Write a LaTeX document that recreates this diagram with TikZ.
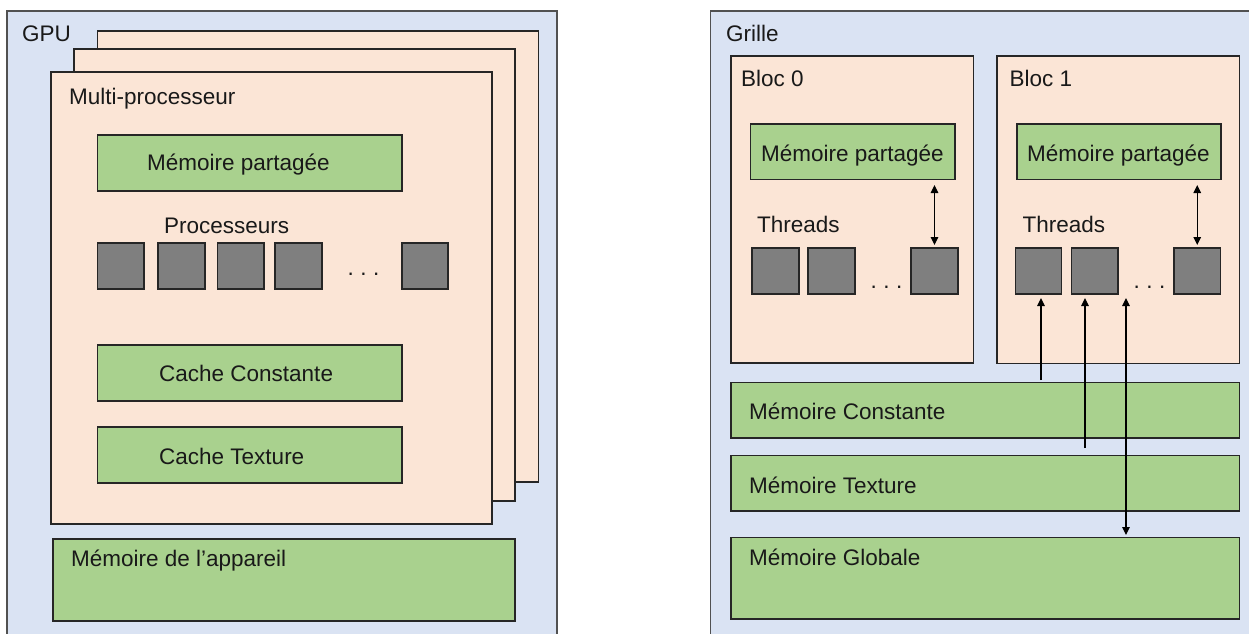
\documentclass[tikz,border=0pt]{standalone}
\usepackage{fontspec}
\setmainfont{Liberation Sans}
\usetikzlibrary{arrows.meta,fit}
\definecolor{bgblue}{HTML}{DAE3F3}
\definecolor{pagepink}{HTML}{FBE5D6}
\definecolor{memgreen}{HTML}{A9D18E}
\definecolor{coregray}{HTML}{7F7F7F}
\definecolor{edge}{HTML}{262626}
\begin{document}
\begin{tikzpicture}[x=1pt,y=-1pt,
  frame/.style={draw=edge, line width=1.2pt, inner sep=0pt, outer sep=0pt},
  outerbox/.style={frame, draw=edge!80, fill=bgblue},
  page/.style={frame, fill=pagepink},
  mem/.style={frame, fill=memgreen},
  core/.style={frame, fill=coregray},
  lbl/.style={anchor=base west, inner sep=0pt, text=black!90, font=\fontsize{22.5}{27}\selectfont},
  dotlbl/.style={anchor=base, inner sep=0pt, text=black!90, font=\fontsize{22.5}{27}\selectfont},
  arr/.style={line width=1.2pt, draw=black, -{Triangle[length=8pt,width=7.5pt]}},
  darr/.style={line width=1.2pt, draw=black, {Triangle[length=8pt,width=7.5pt]}-{Triangle[length=8pt,width=7.5pt]}}]
\useasboundingbox (0,0) rectangle (1249,633);
\clip (0,0) rectangle (1249,633);

% ---------------- Left: GPU ----------------
\node[outerbox, fit={(7,11) (557,680)}] (gpu) {};
\node[lbl] (gpulbl) at (22,41.5) {GPU};
\node[page, fit={(97.5,31) (538.5,482)}] (pg3) {};
\node[page, fit={(74,49) (515,501)}] (pg2) {};
\node[page, fit={(51,72) (492,524)}] (pg1) {};
\node[lbl] (mplbl) at (69,104) {Multi-processeur};

\node[mem, fit={(97.5,135) (402,191)}] (mpl) {};
\node[lbl] (mpltxt) at (147,170.5) {Mémoire partagée};

\node[lbl] (proclbl) at (164,233) {Processeurs};
\node[core, fit={(97.5,243) (144,289)}] (p1) {};
\node[core, fit={(158,243) (205,289)}] (p2) {};
\node[core, fit={(217.5,243) (264,289)}] (p3) {};
\node[core, fit={(275,243) (322,289)}] (p4) {};
\node[core, fit={(402,243) (448,289)}] (p5) {};
\node[dotlbl] (pdots) at (363.5,275) {.\hspace{6.5pt}.\hspace{6.5pt}.};

\node[mem, fit={(97.5,345) (402,401)}] (cconst) {};
\node[lbl] (cconsttxt) at (159,381.5) {Cache Constante};
\node[mem, fit={(97.5,427) (402,483)}] (ctex) {};
\node[lbl] (ctextxt) at (159,464) {Cache Texture};

\node[mem, fit={(53,539) (515,621)}] (mdev) {};
\node[lbl] (mdevtxt) at (71,566.5) {Mémoire de l’appareil};

% ---------------- Right: Grille ----------------
\node[outerbox, fit={(710.5,11) (1290,680)}] (grid) {};
\node[lbl] (gridlbl) at (726,41) {Grille};

\node[page, fit={(731,56) (973.5,363)}] (b0) {};
\node[lbl] (b0lbl) at (741,86) {Bloc 0};
\node[page, fit={(997,56) (1239.5,363.5)}] (b1) {};
\node[lbl] (b1lbl) at (1009.5,86) {Bloc 1};

\node[mem, fit={(750.5,124) (955,179.5)}] (mp0) {};
\node[lbl] (mp0txt) at (761,161.5) {Mémoire partagée};
\node[mem, fit={(1017,124) (1221,179.5)}] (mp1) {};
\node[lbl] (mp1txt) at (1027,161.5) {Mémoire partagée};

\node[lbl] (th0lbl) at (757,232.5) {Threads};
\node[lbl] (th1lbl) at (1022.5,232.5) {Threads};

\node[core, fit={(752,248) (799,294)}] (t00) {};
\node[core, fit={(808,248) (855,294)}] (t01) {};
\node[core, fit={(911,248) (958,294)}] (t02) {};
\node[dotlbl] (tdots0) at (886.5,288) {.\hspace{6.5pt}.\hspace{6.5pt}.};
\node[core, fit={(1015.5,248) (1061.5,294)}] (t10) {};
\node[core, fit={(1071.5,248) (1118,294)}] (t11) {};
\node[core, fit={(1174,248) (1220.5,294)}] (t12) {};
\node[dotlbl] (tdots1) at (1149.5,288) {.\hspace{6.5pt}.\hspace{6.5pt}.};

\node[mem, fit={(731,382.5) (1239.5,438)}] (mconst) {};
\node[lbl] (mconsttxt) at (749,419) {Mémoire Constante};
\node[mem, fit={(731,455.5) (1239.5,511)}] (mtex) {};
\node[lbl] (mtextxt) at (749,493) {Mémoire Texture};
\node[mem, fit={(731,537.5) (1239.5,619)}] (mglob) {};
\node[lbl] (mglobtxt) at (749,565.5) {Mémoire Globale};

% ---------------- Connectors ----------------
\draw[darr, shorten <=5.5pt, shorten >=3pt] (t02.north |- mp0.south) -- (t02.north);
\draw[darr, shorten <=5.5pt, shorten >=3pt] (t12.north |- mp1.south) -- (t12.north);

\coordinate (c1) at (1041,380);
\coordinate (c2) at (1085,448);
\coordinate (c3) at (1126,0);
\draw[arr, shorten >=4pt] (c1) -- (c1 |- t10.south);
\draw[arr, shorten >=4pt] (c2) -- (c2 |- t11.south);
\draw[darr, shorten <=4pt, shorten >=2.5pt] (c3 |- t11.south) -- (c3 |- mglob.north);
\end{tikzpicture}
\end{document}
